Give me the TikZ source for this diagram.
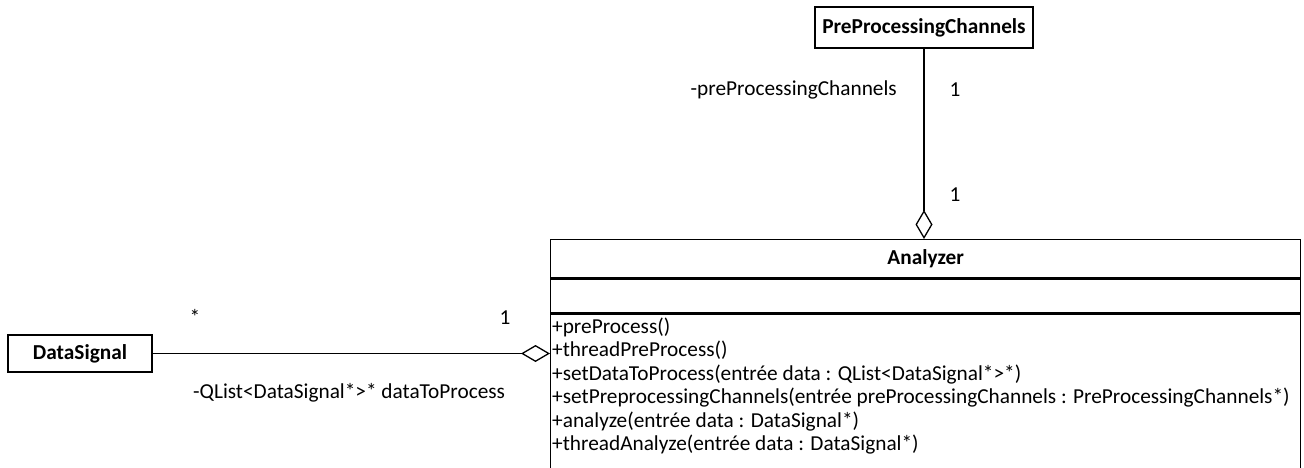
\documentclass[tikz,border=0pt]{standalone}
\usepackage{fontspec}
\setmainfont{Carlito}
\usetikzlibrary{arrows.meta}
\begin{document}
\begin{tikzpicture}[x=1pt,y=-1pt,
  font=\fontsize{21.3}{23.4}\selectfont,
  classbox/.style={draw, line width=1.3pt, inner sep=0pt, font=\fontsize{21.3}{23.4}\selectfont\bfseries},
  compartment/.style={draw, line width=1.3pt, inner sep=0pt, anchor=north west, minimum width=750pt},
  opline/.style={anchor=base west, inner sep=0pt},
  lbl/.style={anchor=base, inner sep=0pt},
  aggregation/.style={line width=1.3pt, -{Diamond[open, length=29pt, width=17pt, line width=1.3pt]}}]
\useasboundingbox (0,0) rectangle (1304,468);
\clip (0,0) rectangle (1304,468);

% classes
\node[classbox, minimum width=218pt, minimum height=41pt] (ppc) at (924,27.5) {PreProcessingChannels};
\node[classbox, minimum width=144pt, minimum height=37pt] (ds) at (80,353.5) {DataSignal};

% Analyzer: name, attribute and operation compartments
\node[compartment, minimum height=38pt, font=\fontsize{21.3}{23.4}\selectfont\bfseries] (anhead) at (550,239) {Analyzer};
\node[compartment, minimum height=34pt] (anattr) at (anhead.south west) {};
\node[compartment, minimum height=200pt] (anops) at (anattr.south west) {};

\node[opline] (op1) at (552,333) {+preProcess()};
\node[opline] (op2) at (552,356.5) {+threadPreProcess()};
\node[opline] (op3) at (552,380) {+setDataToProcess(entrée data : QList<DataSignal*>*)};
\node[opline] (op4) at (552,403.5) {+setPreprocessingChannels(entrée preProcessingChannels : PreProcessingChannels*)};
\node[opline] (op5) at (552,427) {+analyze(entrée data : DataSignal*)};
\node[opline] (op6) at (552,450.5) {+threadAnalyze(entrée data : DataSignal*)};

% associations
\draw[aggregation] (ppc.south) -- (ppc.south |- anhead.north);
\draw[aggregation] (ds.east) -- (ds.east -| anops.west);

% role names and multiplicities
\node[lbl, anchor=base east] (rolePpc) at (897,96) {-preProcessingChannels};
\node[lbl] (mPpcTop) at (955,96.5) {1};
\node[lbl] (mPpcBot) at (955,201.5) {1};
\node[lbl] (mDsStar) at (195,324) {*};
\node[lbl] (mDsOne) at (505,324.5) {1};
\node[lbl, anchor=base west] (roleDs) at (193,398) {-QList<DataSignal*>* dataToProcess};
\end{tikzpicture}
\end{document}
